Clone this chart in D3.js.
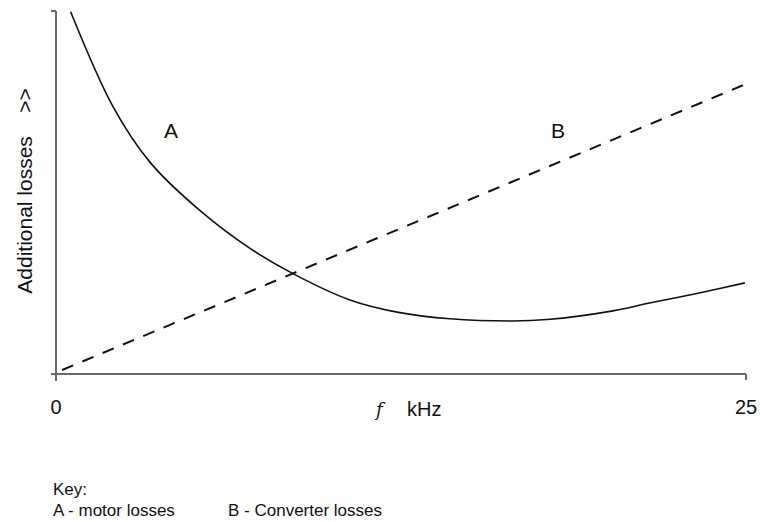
<!DOCTYPE html>
<html>
<head>
<meta charset="utf-8">
<script src="https://cdn.jsdelivr.net/npm/d3@7"></script>
<style>
  body { margin: 0; background: #fff; }
  text { font-family: "Liberation Sans", Arial, sans-serif; fill: #111; }
</style>
</head>
<body>
<div id="chart"></div>
<script>
// frequency (kHz) and relative loss values
const motorFreq   = [0.53, 2.07, 3.41, 5.22, 7.03, 8.55, 10.65, 12.46, 14.28, 16.56, 17.79, 20.18, 21.41, 23.22, 24.96];
const motorLosses = [99.8, 73.6, 58.3, 45.0, 34.6, 27.8, 20.4, 16.9, 15.2, 14.6, 15.0, 17.4, 19.4, 22.2, 25.1];
const convFreq    = [0.22, 25];
const convLosses  = [1.1, 79.9];
const xTicks      = [0, 25];

// chart setup
let width = 760, height = 522;

let svg = d3.select("#chart").append("svg")
    .attr("width", width)
    .attr("height", height);

let x = d3.scaleLinear().domain([0, 25]).range([56, 746]);
let y = d3.scaleLinear().domain([0, 100]).range([374, 11]);

// axes (plain lines, no gridlines)
let axisColor = "#6a6a6a";
svg.append("line")
    .attr("x1", x(0) - 5).attr("x2", x(25))
    .attr("y1", y(0)).attr("y2", y(0))
    .attr("stroke", axisColor).attr("stroke-width", 2);
svg.append("line")
    .attr("x1", x(25)).attr("x2", x(25))
    .attr("y1", y(0)).attr("y2", y(0) + 6)
    .attr("stroke", axisColor).attr("stroke-width", 2);
svg.append("line")
    .attr("x1", x(0)).attr("x2", x(0))
    .attr("y1", y(100)).attr("y2", y(0) + 7)
    .attr("stroke", axisColor).attr("stroke-width", 2);
svg.append("line")
    .attr("x1", x(0) - 5).attr("x2", x(0))
    .attr("y1", y(100)).attr("y2", y(100))
    .attr("stroke", axisColor).attr("stroke-width", 2);

// tick labels
svg.selectAll(".tick-label")
    .data(xTicks)
    .enter().append("text")
    .attr("class", "tick-label")
    .attr("x", d => x(d))
    .attr("y", 414)
    .attr("text-anchor", "middle")
    .style("font-size", "20px")
    .text(d => d);

// motor losses curve (A)
let motorData = motorFreq.map((f, i) => ({f: f, v: motorLosses[i]}));
let line = d3.line()
    .x(d => x(d.f))
    .y(d => y(d.v))
    .curve(d3.curveCatmullRom.alpha(0.5));

svg.append("path")
    .datum(motorData)
    .attr("d", line)
    .attr("fill", "none")
    .attr("stroke", "#111")
    .attr("stroke-width", 1.6);

// converter losses line (B)
let convData = convFreq.map((f, i) => ({f: f, v: convLosses[i]}));
svg.append("path")
    .datum(convData)
    .attr("d", d3.line().x(d => x(d.f)).y(d => y(d.v)))
    .attr("fill", "none")
    .attr("stroke", "#111")
    .attr("stroke-width", 2)
    .attr("stroke-dasharray", "12,10");

// curve labels
svg.append("text").attr("x", 171).attr("y", 138)
    .attr("text-anchor", "middle").style("font-size", "21px").text("A");
svg.append("text").attr("x", 558).attr("y", 138)
    .attr("text-anchor", "middle").style("font-size", "21px").text("B");

// axis titles
svg.append("text")
    .attr("transform", "translate(32,191) rotate(-90)")
    .attr("text-anchor", "middle")
    .style("font-size", "21px")
    .style("white-space", "pre")
    .text("Additional losses    >>");

svg.append("text")
    .attr("x", 376).attr("y", 416)
    .style("font-family", "'DejaVu Serif', 'Liberation Serif', serif")
    .style("font-style", "italic")
    .style("font-size", "18px")
    .text("f");
svg.append("text")
    .attr("x", 407).attr("y", 416)
    .style("font-size", "20px")
    .text("kHz");

// key
svg.append("text").attr("x", 53).attr("y", 495)
    .style("font-size", "17px").text("Key:");
svg.append("text").attr("x", 53).attr("y", 516)
    .style("font-size", "17px").text("A - motor losses");
svg.append("text").attr("x", 228).attr("y", 516)
    .style("font-size", "17px").text("B - Converter losses");
</script>
</body>
</html>
